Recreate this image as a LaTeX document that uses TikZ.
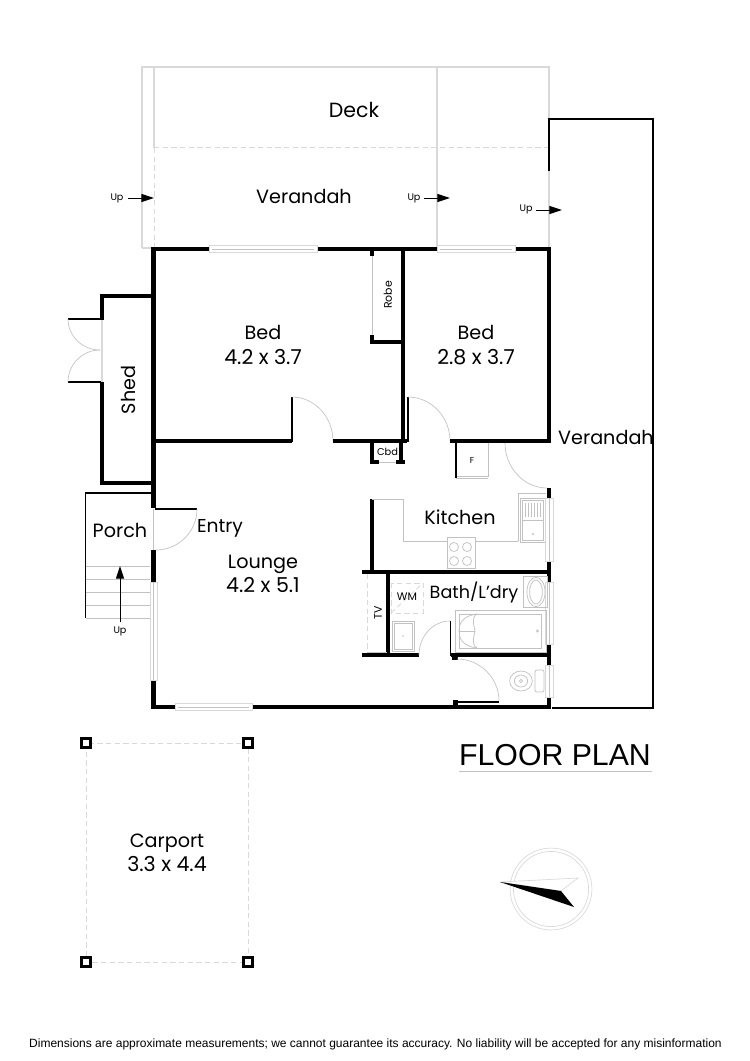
\documentclass[tikz,border=0pt]{standalone}
\usepackage{fontspec}
\setmainfont{Poppins}
\newfontfamily\arialf{Liberation Sans}
\usetikzlibrary{calc,arrows.meta}
\definecolor{gl}{gray}{0.85}
\definecolor{gd}{gray}{0.76}
\newcommand{\qarc}[4][draw=gd,line width=0.5pt]{\draw[#1] #2 .. controls ($#2!0.55!#3$) and ($#4!0.55!#3$) .. #4;}
\newcommand{\dimtext}[1]{{\fontsize{15.4}{18.4}\selectfont #1}}
\tikzset{
 wall/.style={line width=3.6pt,black,line cap=butt,line join=miter},
 thinwall/.style={line width=1.2pt,black},
 grey/.style={line width=0.9pt,gl},
 fix/.style={line width=0.55pt,gd},
 dash grey/.style={line width=0.6pt,gl,dash pattern=on 4pt off 2.5pt},
 room/.style={font=\fontsize{14.4}{18.4}\selectfont,inner sep=0pt,align=center},
 small/.style={font=\fontsize{8.2}{10}\selectfont,inner sep=0pt},
 upl/.style={font=\fontsize{7.2}{9}\selectfont,inner sep=0pt},
 uparrow/.style={line width=0.75pt,black,-{Triangle[length=9.5pt,width=6pt]}},
 post/.style={line width=1.8pt,black,fill=white},
 window/.style={draw=gl,line width=0.5pt,fill=white},
}
\begin{document}
\begin{tikzpicture}[x=0.75pt,y=-0.75pt]
\useasboundingbox (0,0) rectangle (750,1061);
\fill[white] (0,0) rectangle (750,1061);

% Deck and verandah outlines
\draw[grey] (142,248) -- (142,67) -- (549,67) -- (549,248);
\draw[grey] (154,67) -- (154,148);
\draw[grey] (437,67) -- (437,249);
\draw[dash grey] (154,148) -- (154,248);
\draw[dash grey] (154,147.5) -- (549,147.5);
\draw[grey] (142,248) -- (154,248);

% Right verandah
\draw[line width=1.9pt,black,line cap=rect] (549,170) -- (549,119) -- (653,119) -- (653,708);
\draw[line width=1.2pt,black] (552,708) -- (653,708);

% Main walls
\draw[wall] (153.5,508) -- (153.5,249) -- (209,249);
\draw[wall] (317,249) -- (437,249);
\draw[wall] (515,249) -- (549,249) -- (549,443);
\draw[wall] (153.5,550) -- (153.5,582);
\draw[wall] (153.5,680) -- (153.5,707) -- (175,707);
\draw[wall] (252,707) -- (551,707);
\draw[wall] (549,488) -- (549,498);
\draw[wall] (549,561) -- (549,582);
\draw[wall] (549,644) -- (549,665);
\draw[wall] (549,697) -- (549,709);
% Shed
\draw[wall] (153,296) -- (102,296) -- (102,320);
\draw[wall] (102,382) -- (102,483) -- (153,483);
\draw[grey] (102,320) -- (102,382);
\draw[thinwall] (68,319) -- (101,319);
\draw[thinwall] (68,382) -- (101,382);
\qarc{(68,319)}{(68,350)}{(100,350)}
\qarc{(68,382)}{(68,350)}{(100,350)}
% Porch
\draw[line width=1.1pt,black] (153,493) -- (85.5,493) -- (85.5,618);
\foreach \yy in {566.5,579.5,592.5,605.5,618.5}{\draw[fix] (85.5,\yy) -- (150,\yy);}
\coordinate (upA) at (120,622);
\coordinate (upB) at (120,566);
\draw[uparrow] (upA) -- (upB);
\node[upl] (upPorch) at (120,631) {Up};
% Entry door
\draw[thinwall] (155,509) -- (197,509);
\qarc{(197,509)}{(197,550)}{(156,550)}
\draw[fix] (153.5,509) -- (153.5,550);
% West window
\draw[window] (150,582) rectangle (157,680);
\draw[fix] (153.5,582) -- (153.5,680);
% Top windows
\draw[window] (209,245.5) rectangle (317,252.5);
\draw[fix] (212,249) -- (314,249);
\draw[window] (437,245.5) rectangle (515,252.5);
\draw[fix] (440,249) -- (512,249);
% Bottom window
\draw[window] (175,703.5) rectangle (252,710.5);
\draw[fix] (178,707) -- (249,707);
% Internal walls
\draw[wall] (153,441) -- (292,441);
\draw[thinwall] (292,397) -- (292,442);
\qarc{(292,397)}{(333,397)}{(333,441)}
\draw[wall] (333,441) -- (407,441);
\draw[wall] (403,249) -- (403,443);
\draw[thinwall] (408,397) -- (408,442);
\qarc{(408,397)}{(450,397)}{(450,441)}
\draw[wall] (450,441) -- (551,441);
% Robe
\draw[wall] (372,249) -- (372,256);
\draw[line width=0.5pt,gd] (372,256) -- (372,336);
\draw[wall] (372,335) -- (372,344);
\draw[wall] (370,342) -- (403,342);
% Cbd
\draw[wall] (372,441) -- (372,464);
\draw[wall] (401,441) -- (401,464);
\draw[wall] (370,462) -- (379,462);
\draw[wall] (396,462) -- (405,462);
\draw[fix] (379,462) -- (396,462);
% Fridge
\draw[fix] (456,476) -- (488,476) -- (488,443);
\draw[fix] (456,478) -- (488,478);
\draw[line width=1.4pt,black] (456,443) -- (456,478);
% Back door
\qarc{(505,443)}{(505,488)}{(547,488)}
% Kitchen
\draw[wall] (372,499) -- (372,571);
\draw[wall] (362,572) -- (551,572);
\draw[fix] (372,499) -- (403,499) -- (403,541) -- (518,541);
\draw[fix] (518,541) -- (518,493) -- (546,493);
\draw[fix] (520,498) rectangle (545,542);
\draw[fix] (522,500) rectangle (543,540);
\draw[fix] (523,520) -- (543,520);
\foreach \xx in {525,528,531,534,537,540}{\draw[line width=0.4pt,gd] (\xx,503) -- (\xx,517);}
\fill[gd] (533,534) circle [radius=0.8pt];
\draw[fix,fill=white] (447,537) rectangle (475,568);
\foreach \cx/\cy in {454,467}{\foreach \dy in {547,561}{\draw[fix] (\cx,\dy) circle [radius=3.4pt];}}
% East windows
\draw[window] (545,498) rectangle (553,561);
\draw[fix] (549,498) -- (549,561);
\draw[window] (545,582) rectangle (553,644);
\draw[fix] (549,582) -- (549,644);
\draw[window] (545,665) rectangle (553,697);
\draw[fix] (549,665) -- (549,697);
% Bath
\draw[wall] (388,572) -- (388,656);
\draw[wall] (362,655) -- (419,655);
\draw[wall] (451,655) -- (551,655);
\draw[thinwall] (450.5,621) -- (450.5,656);
\qarc{(450,621)}{(419,621)}{(419,655)}
\fill[black] (452,653) rectangle (458,660);
\draw[dash grey] (367,574) -- (367,652);
\draw[fix] (367,652) -- (387,652);
\draw[dash grey] (391,583) rectangle (423,613);
\draw[dash grey] (391,613) -- (423,583);
\draw[fix] (392,621) rectangle (414,651);
\draw[fix] (394,623) rectangle (412,649);
\fill[gd] (403,636) circle [radius=0.7pt];
% Bath tub
\draw[fix] (455,610) rectangle (546,652);
\draw[fix] (459,614) rectangle (541,648);
\draw[fix] (477,614) .. controls (462,616) and (459,624) .. (459,631) .. controls (459,638) and (462,646) .. (477,648);
\draw[fix] (477,614) .. controls (470,618) and (475,628) .. (475,631) .. controls (475,634) and (470,644) .. (477,648);
\draw[fix] (459,631) -- (475,631);
\draw[fix] (537.5,631) circle [radius=0.9pt];
% Basin
\draw[fix] (523,576) rectangle (547,607);
\draw[fix] (536,592) ellipse [x radius=6.8pt,y radius=11pt];
\draw[fix] (536,592) ellipse [x radius=4.8pt,y radius=9pt];
% Lower door
\fill[black] (453,700) rectangle (458,706);
\draw[thinwall] (457,702) -- (499,702);
\qarc{(457,659)}{(499,659)}{(499,701)}
% Toilet
\draw[fix] (521,681) ellipse [x radius=8.5pt,y radius=7.5pt];
\draw[fix] (521,681) ellipse [x radius=5pt,y radius=4.5pt];
\draw[fix,rounded corners=1.5pt] (535,670) -- (544,670) -- (544,692) -- (535,692) -- cycle;
\draw[fix] (521,681) circle [radius=1.2pt];
% Carport
\draw[dash grey] (86,743) rectangle (248,962);
\draw[post] (81.5,738.5) rectangle (90.5,747.5);
\draw[post] (243.5,738.5) rectangle (252.5,747.5);
\draw[post] (81.5,957.5) rectangle (90.5,966.5);
\draw[post] (243.5,957.5) rectangle (252.5,966.5);
% Compass
\draw[line width=0.5pt,gl] (551,889) circle [radius=30.7pt];
\draw[line width=0.5pt,gl] (551,889) circle [radius=28.2pt];
\draw[line width=0.5pt,gl,fill=white] (500,882) -- (578,878) -- (561,891) -- cycle;
\fill[black] (500,882) -- (561,891) -- (574,907) -- cycle;
% Floor plan rule
\draw[line width=0.5pt,gd] (459,771) -- (652,771);
% Up arrows
\coordinate (u1a) at (128,198); \coordinate (u1b) at (154,198);
\coordinate (u2a) at (424,198); \coordinate (u2b) at (450,198);
\coordinate (u3a) at (536,210); \coordinate (u3b) at (562,210);
\draw[uparrow] (u1a) -- (u1b);
\draw[uparrow] (u2a) -- (u2b);
\draw[uparrow] (u3a) -- (u3b);
\node[upl] (up1) at (117,198) {Up};
\node[upl] (up2) at (414,198) {Up};
\node[upl] (up3) at (526,209) {Up};
% Labels
\node[room,font=\fontsize{15.4}{18}\selectfont] (deck) at (354,110) {Deck};
\node[room] (ver1) at (304,196) {Verandah};
\node[room] (ver2) at (606,437) {Verandah};
\node[room] (bed1) at (263,345) {Bed\\\dimtext{4.2 x 3.7}};
\node[room] (bed2) at (476,345) {Bed\\\dimtext{2.8 x 3.7}};
\node[room,rotate=90] (shed) at (128,390) {Shed};
\node[small,rotate=90] (robe) at (388,295) {Robe};
\node[small,font=\fontsize{7.4}{9}\selectfont] (cbd) at (387.5,452) {Cbd};
\node[small,font=\fontsize{6.5}{8}\selectfont] (fr) at (472,460) {F};
\node[room] (porch) at (120,530) {Porch};
\node[room,font=\fontsize{14}{18}\selectfont] (entry) at (220,528) {Entry};
\node[room] (lounge) at (263,574) {Lounge\\\dimtext{4.2 x 5.1}};
\node[room] (kitchen) at (460,517) {Kitchen};
\node[room,font=\fontsize{13.2}{15}\selectfont] (bath) at (474,592) {Bath/L'dry};
\node[small] (wm) at (407,597) {WM};
\node[small,rotate=90] (tv) at (378,613) {TV};
\node[room] (carport) at (167,853) {Carport\\\dimtext{3.3 x 4.4}};
\node[inner sep=0pt,font=\arialf\fontsize{22.7}{24}\selectfont] (fp) at (555,755) {FLOOR PLAN};
\node[inner sep=0pt,font=\arialf\fontsize{9}{11}\selectfont] (disc) at (375.5,1044) {Dimensions are approximate measurements; we cannot guarantee its accuracy. No liability will be accepted for any misinformation};
\end{tikzpicture}
\end{document}
